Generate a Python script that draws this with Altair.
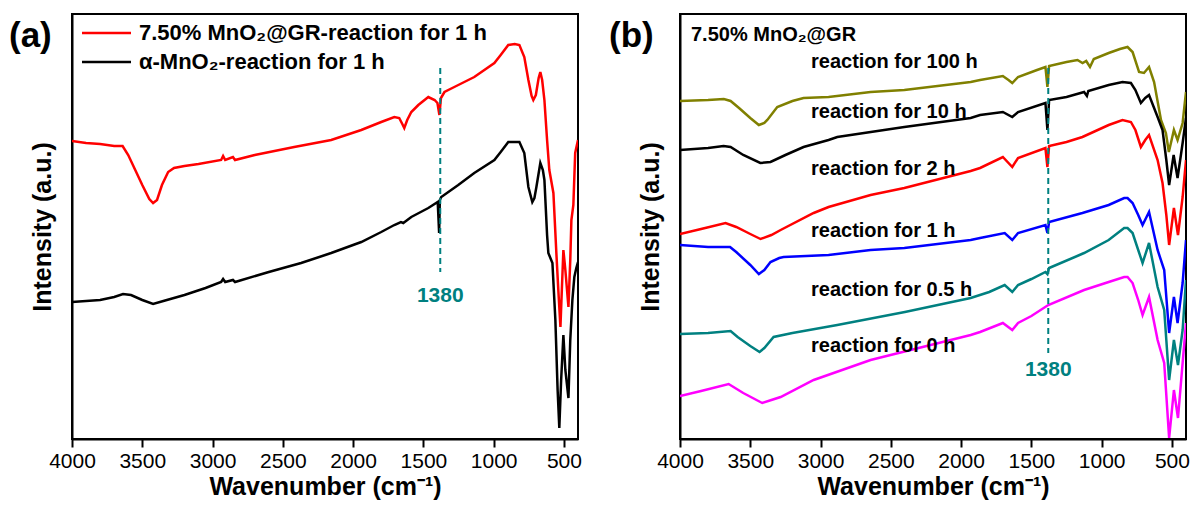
import altair as alt
import pandas as pd

FONT = "Liberation Sans"
TEAL = "#008080"

# ---------------- panel (a) data ----------------
a_series = ["7.50% MnO2@GR-reaction for 1 h", "α-MnO2-reaction for 1 h"]
a_colors = ["#ff0000", "#000000"]

a_red_wn = [4000, 3900, 3800, 3700, 3640, 3600, 3550, 3500, 3450, 3423, 3395, 3360, 3316, 3274, 3200,
            3100, 2939, 2925, 2910, 2855, 2840, 2700, 2419, 2156, 1942, 1800, 1707, 1672, 1650, 1636,
            1615, 1586, 1536, 1465, 1420, 1400, 1386, 1375, 1350, 1280, 1138, 995, 950, 896, 850,
            817, 782, 753, 730, 718, 700, 680, 668, 655, 639, 620, 604, 575, 554, 540,
            525, 515, 504, 490, 468, 455, 447, 433, 420, 400]
a_red_int = [298, 296, 295, 293, 293, 284, 269, 254, 240, 236, 239, 254, 267, 271, 273,
             275, 279, 283, 279, 282, 279, 284, 292, 299, 309, 317, 322, 321, 315, 311,
             319, 327, 334, 342, 339, 336, 324, 341, 347, 352, 362, 376, 384, 394, 395,
             394, 382, 359, 343, 339, 344, 361, 367, 359, 339, 299, 269, 246, 186, 149,
             112, 149, 189, 169, 132, 179, 219, 234, 286, 299]

a_blk_wn = [4000, 3900, 3800, 3700, 3637, 3580, 3500, 3423, 3350, 3200, 3050, 2939, 2925, 2910, 2855,
            2840, 2600, 2370, 2156, 1942, 1800, 1707, 1660, 1643, 1586, 1465, 1398, 1388, 1383, 1373,
            1252, 1138, 995, 950, 896, 817, 782, 753, 725, 710, 696, 668, 650, 639, 620,
            611, 582, 561, 545, 533, 520, 504, 490, 468, 455, 440, 426, 412, 400]
a_blk_int = [137, 138, 139, 142, 145, 144, 139, 135, 138, 144, 151, 157, 160, 157, 159,
             157, 167, 176, 186, 197, 207, 214, 217, 216, 222, 231, 237, 206, 239, 242,
             254, 266, 279, 287, 297, 297, 286, 252, 237, 241, 252, 276, 269, 259, 204,
             186, 176, 119, 49, 11, 59, 104, 69, 41, 99, 139, 162, 171, 177]

# ---------------- panel (b) data ----------------
b_series = ["reaction for 100 h", "reaction for 10 h", "reaction for 2 h",
            "reaction for 1 h", "reaction for 0.5 h", "reaction for 0 h"]
b_colors = ["#808000", "#000000", "#ff0000", "#0000ff", "#008080", "#ff00ff"]

b_100_wn = [4000, 3800, 3688, 3640, 3580, 3500, 3439, 3400, 3379, 3308, 3200, 3121, 2943, 2644, 2404,
            1932, 1865, 1703, 1663, 1636, 1595, 1460, 1400, 1386, 1374, 1250, 1172, 1136, 1110, 1083,
            1056, 950, 870, 816, 780, 734, 699, 663, 627, 578, 543, 522, 486, 460, 424, 400]
b_100_int = [338, 339, 340, 338, 331, 321, 314, 316, 319, 332, 338, 341, 342, 347, 349,
             357, 359, 363, 359, 356, 362, 369, 372, 352, 373, 377, 379, 376, 378, 372,
             380, 386, 390, 392, 387, 367, 366, 372, 357, 319, 306, 287, 309, 299, 316, 347]

b_10_wn = [4000, 3800, 3690, 3640, 3550, 3429, 3356, 3250, 3121, 2943, 2881, 2404, 1932, 1865, 1703,
           1636, 1595, 1400, 1386, 1374, 1250, 1125, 1105, 1095, 950, 852, 792, 760, 721, 690,
           663, 602, 567, 540, 520, 488, 460, 424, 400]
b_10_int = [289, 291, 293, 292, 284, 276, 277, 284, 292, 299, 302, 312, 321, 324, 327,
            322, 327, 336, 309, 339, 342, 347, 343, 348, 354, 357, 356, 349, 336, 341,
            344, 322, 309, 279, 254, 284, 261, 296, 321]

b_2_wn = [4000, 3850, 3676, 3600, 3500, 3427, 3350, 3284, 3049, 2943, 2644, 2404, 1932, 1865, 1703,
          1636, 1595, 1400, 1386, 1374, 1250, 1137, 950, 852, 792, 760, 721, 690, 663, 602,
          567, 540, 520, 486, 457, 424, 400]
b_2_int = [205, 210, 216, 212, 205, 200, 204, 209, 226, 232, 244, 251, 268, 271, 282,
           272, 281, 291, 272, 293, 297, 302, 314, 319, 317, 309, 292, 299, 304, 279,
           256, 224, 194, 231, 204, 242, 279]

b_1_wn = [4000, 3800, 3644, 3600, 3500, 3439, 3400, 3356, 3294, 3263, 2943, 2644, 2404, 1932, 1865,
          1690, 1636, 1595, 1400, 1386, 1374, 1137, 950, 840, 816, 780, 740, 709, 663, 602,
          555, 520, 486, 460, 424, 400]
b_1_int = [194, 192, 192, 187, 174, 165, 169, 177, 181, 182, 184, 189, 191, 199, 201,
           206, 199, 206, 214, 206, 217, 226, 234, 241, 241, 236, 224, 214, 227, 189,
           169, 106, 142, 116, 156, 199]

b_05_wn = [4000, 3800, 3640, 3590, 3500, 3434, 3400, 3334, 3200, 2881, 2400, 1932, 1800, 1690, 1636,
           1595, 1500, 1400, 1386, 1374, 1125, 950, 840, 816, 780, 740, 709, 663, 602, 555,
           520, 486, 457, 424, 400]
b_05_int = [105, 106, 108, 102, 93, 87, 91, 102, 106, 114, 127, 141, 147, 154, 147,
            154, 160, 167, 165, 171, 186, 199, 211, 211, 206, 189, 176, 196, 152, 129,
            59, 99, 74, 109, 159]

b_0_wn = [4000, 3850, 3654, 3550, 3415, 3350, 3284, 3049, 2644, 1932, 1865, 1703, 1636, 1595, 1500,
          1380, 1125, 950, 840, 816, 780, 740, 709, 663, 602, 555, 520, 486, 457, 424, 400]
b_0_int = [43, 48, 55, 46, 36, 39, 42, 59, 79, 104, 107, 116, 109, 116, 123,
           134, 149, 157, 162, 162, 156, 139, 124, 142, 99, 76, 1, 49, 21, 76, 116]

marker_wn = [1380]
x_tick_values = [4000, 3750, 3500, 3250, 3000, 2750, 2500, 2250, 2000, 1750,
                 1500, 1250, 1000, 750, 500]

W, H = 506, 425


def long_df(series_names, wns, ints):
    frames = []
    for name, w, v in zip(series_names, wns, ints):
        frames.append(pd.DataFrame({"series": name, "wn": w, "intensity": v}))
    return pd.concat(frames, ignore_index=True)


df_a = long_df(a_series, [a_red_wn, a_blk_wn], [a_red_int, a_blk_int])
df_b = long_df(b_series, [b_100_wn, b_10_wn, b_2_wn, b_1_wn, b_05_wn, b_0_wn],
               [b_100_int, b_10_int, b_2_int, b_1_int, b_05_int, b_0_int])

x_axis = alt.Axis(
    title="Wavenumber (cm⁻¹)",
    values=x_tick_values,
    format="d",
    labelExpr="datum.value % 500 === 0 ? datum.label : ''",
    tickSize={"condition": {"test": "datum.value % 500 === 0", "value": 8}, "value": 4},
    labelFlush=False,
    labelOverlap=False,
    labelPadding=3,
    titlePadding=3,
    grid=False,
)
y_axis = alt.Axis(title="Intensity (a.u.)", labels=False, ticks=False, grid=False, titlePadding=17)
x_scale = alt.Scale(domain=[4000, 400], nice=False, zero=False)
y_scale = alt.Scale(domain=[0, H], nice=False, zero=False)


def curves(df, names, colors):
    return alt.Chart(df).mark_line(strokeWidth=2.5, clip=True).encode(
        x=alt.X("wn:Q", scale=x_scale, axis=x_axis),
        y=alt.Y("intensity:Q", scale=y_scale, axis=y_axis),
        color=alt.Color("series:N", scale=alt.Scale(domain=names, range=colors), legend=None),
    )


def note(text, px, py, size, color="black", align="left", weight="bold"):
    return alt.Chart(pd.DataFrame({"t": [text]})).mark_text(
        align=align, baseline="middle", fontSize=size, fontWeight=weight, color=color, font=FONT
    ).encode(x=alt.value(px), y=alt.value(py), text="t:N")


def marker(y_top, y_bot, y_text):
    mdf = pd.DataFrame({"wn": marker_wn, "t": [str(v) for v in marker_wn]})
    rule = alt.Chart(mdf).mark_rule(color=TEAL, strokeWidth=2, strokeDash=[6, 4]).encode(
        x="wn:Q", y=alt.value(y_top), y2=alt.value(y_bot))
    txt = alt.Chart(mdf).mark_text(color=TEAL, fontSize=21, fontWeight="bold", font=FONT,
                                   baseline="middle").encode(
        x="wn:Q", y=alt.value(y_text), text="t:N")
    return rule + txt


def legend_line(color, py):
    return alt.Chart(pd.DataFrame({"c": [color]})).mark_rule(strokeWidth=2.5, color=color).encode(
        x=alt.value(10), x2=alt.value(59), y=alt.value(py))


panel_a = alt.layer(
    curves(df_a, a_series, a_colors),
    marker(54, 258, 282),
    legend_line(a_colors[0], 19),
    legend_line(a_colors[1], 48),
    note("7.50% MnO₂@GR-reaction for 1 h", 67, 19, 22),
    note("α-MnO₂-reaction for 1 h", 67, 48, 22),
    note("(a)", -63, 22, 35),
).properties(width=W, height=H)

b_label_y = [48, 98, 155, 217, 276, 332]
b_layers = [curves(df_b, b_series, b_colors), marker(54, 339, 356),
            note("7.50% MnO₂@GR", 11, 21, 20), note("(b)", -71, 22, 35)]
for name, ly in zip(b_series, b_label_y):
    b_layers.append(note(name, 131, ly, 20))

panel_b = alt.layer(*b_layers).properties(width=W, height=H)

chart = alt.hconcat(panel_a, panel_b, spacing=102, bounds="flush").resolve_scale(
    color="independent"
).properties(
    padding={"left": 8, "top": 13, "right": 2, "bottom": 0}
).configure(font=FONT).configure_view(
    stroke="black", strokeWidth=2
).configure_axis(
    domainColor="black", domainWidth=2, tickColor="black", tickWidth=2,
    labelColor="black", labelFontSize=21, labelFont=FONT,
    titleColor="black", titleFontSize=25, titleFontWeight="bold", titleFont=FONT,
)

chart.save("out.html", embed_options={"renderer": "svg", "actions": False})
